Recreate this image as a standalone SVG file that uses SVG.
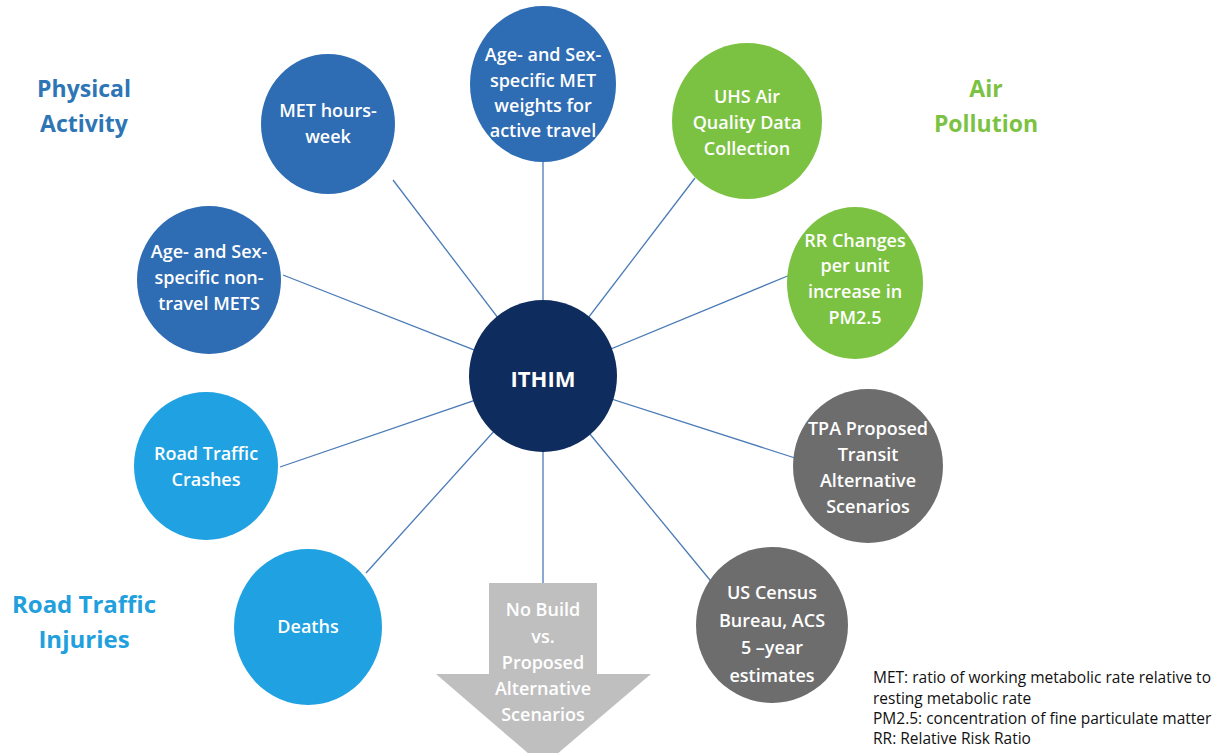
<svg xmlns="http://www.w3.org/2000/svg" width="1217" height="753" viewBox="0 0 1217 753">
<style>
.t{font-family:"Open Sans","Noto Sans",sans-serif;font-weight:600;font-size:18px;fill:#ffffff;text-anchor:middle;dominant-baseline:central}
.h{font-family:"Open Sans","Noto Sans",sans-serif;font-weight:700;font-size:23px;text-anchor:middle;dominant-baseline:central}
.c{stroke:#4a7bb7;stroke-width:1.3;fill:none}
.mb{fill:#2e6cb3}.lb{fill:#1fa1e2}.gr{fill:#7cc242}.gy{fill:#6d6d6d}
.fn{font-family:"Open Sans","Noto Sans",sans-serif;font-size:15.5px;fill:#111111}
</style>
<rect width="1217" height="753" fill="#ffffff"/>
<g id="titles">
<text class="h" fill="#2e75b6" x="84" y="88">Physical</text>
<text class="h" fill="#2e75b6" x="84" y="123">Activity</text>
<text class="h" fill="#7cc242" x="986" y="88">Air</text>
<text class="h" fill="#7cc242" x="986" y="123">Pollution</text>
<text class="h" style="font-size:24px" fill="#22a0dd" x="84" y="603">Road Traffic</text>
<text class="h" style="font-size:24px" fill="#22a0dd" x="84" y="638">Injuries</text>
</g>
<g id="connectors">
<line class="c" x1="543" y1="377" x2="543" y2="160"/>
<line class="c" x1="543" y1="377" x2="393" y2="180"/>
<line class="c" x1="543" y1="377" x2="283" y2="275"/>
<line class="c" x1="543" y1="377" x2="280" y2="467"/>
<line class="c" x1="543" y1="377" x2="366" y2="573"/>
<line class="c" x1="543" y1="377" x2="543" y2="583"/>
<line class="c" x1="543" y1="377" x2="719" y2="591"/>
<line class="c" x1="543" y1="377" x2="795" y2="458"/>
<line class="c" x1="543" y1="377" x2="790" y2="275"/>
<line class="c" x1="543" y1="377" x2="695" y2="178"/>
</g>
<g id="arrow">
<polygon points="489,583 597,583 597,674 651,674 543,766 436,674 489,674" fill="#bfbfbf"/>
<text class="t" fill="#f4f4f4" x="543" y="609">No Build</text>
<text class="t" fill="#f4f4f4" x="543" y="636">vs.</text>
<text class="t" fill="#f4f4f4" x="543" y="662">Proposed</text>
<text class="t" fill="#f4f4f4" x="543" y="688">Alternative</text>
<text class="t" fill="#f4f4f4" x="543" y="714">Scenarios</text>
</g>
<g id="ithim">
<ellipse cx="543" cy="376" rx="74" ry="76" fill="#0f2c5e"/>
<text class="t" style="font-size:22px;font-weight:700" x="543" y="378">ITHIM</text>
</g>
<g id="met-hours">
<ellipse class="mb" cx="328" cy="124" rx="67" ry="70"/>
<text class="t" x="328" y="110">MET hours-</text>
<text class="t" x="328" y="136">week</text>
</g>
<g id="met-weights">
<ellipse class="mb" cx="543" cy="84" rx="73" ry="78"/>
<text class="t" x="543" y="54">Age- and Sex-</text>
<text class="t" x="543" y="80">specific MET</text>
<text class="t" x="543" y="105">weights for</text>
<text class="t" x="543" y="130">active travel</text>
</g>
<g id="non-travel">
<ellipse class="mb" cx="209" cy="280" rx="72" ry="74"/>
<text class="t" x="209" y="251">Age- and Sex-</text>
<text class="t" x="209" y="277">specific non-</text>
<text class="t" x="209" y="303">travel METS</text>
</g>
<g id="crashes">
<ellipse class="lb" cx="206" cy="466" rx="72" ry="74"/>
<text class="t" x="206" y="453">Road Traffic</text>
<text class="t" x="206" y="479">Crashes</text>
</g>
<g id="deaths">
<ellipse class="lb" cx="308" cy="627" rx="74" ry="78"/>
<text class="t" x="308" y="626">Deaths</text>
</g>
<g id="uhs">
<ellipse class="gr" cx="747" cy="121" rx="75" ry="78"/>
<text class="t" x="747" y="96">UHS Air</text>
<text class="t" x="747" y="122">Quality Data</text>
<text class="t" x="747" y="148">Collection</text>
</g>
<g id="rr">
<ellipse class="gr" cx="855" cy="283" rx="68" ry="76"/>
<text class="t" x="855" y="240">RR Changes</text>
<text class="t" x="855" y="265">per unit</text>
<text class="t" x="855" y="291">increase in</text>
<text class="t" x="855" y="317">PM2.5</text>
</g>
<g id="tpa">
<ellipse class="gy" cx="868" cy="466" rx="75" ry="77"/>
<text class="t" x="868" y="428">TPA Proposed</text>
<text class="t" x="868" y="454">Transit</text>
<text class="t" x="868" y="480">Alternative</text>
<text class="t" x="868" y="506">Scenarios</text>
</g>
<g id="census">
<ellipse class="gy" cx="772" cy="625" rx="76" ry="78"/>
<text class="t" x="772" y="592">US Census</text>
<text class="t" x="772" y="620">Bureau, ACS</text>
<text class="t" x="772" y="647">5 –year</text>
<text class="t" x="772" y="675">estimates</text>
</g>
<g id="footnote">
<text class="fn" x="873" y="683">MET: ratio of working metabolic rate relative to</text>
<text class="fn" x="873" y="704">resting metabolic rate</text>
<text class="fn" x="873" y="724">PM2.5: concentration of fine particulate matter</text>
<text class="fn" x="873" y="744">RR: Relative Risk Ratio</text>
</g>
</svg>
